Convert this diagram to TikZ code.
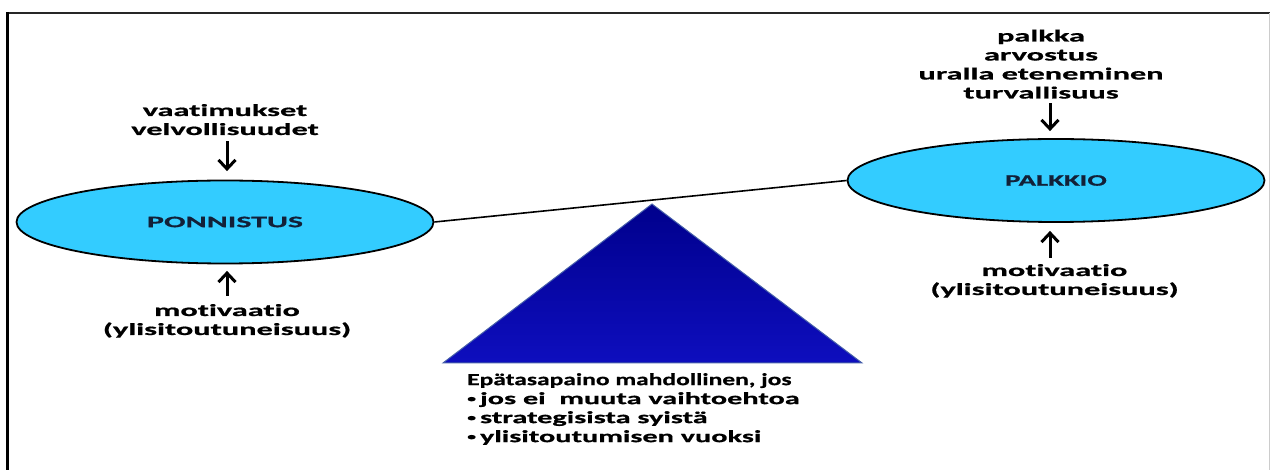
\documentclass[tikz,border=0pt]{standalone}
\usepackage{fontspec}
\setmainfont{Carlito}
\newfontfamily\labf[FakeStretch=1.9,FakeBold=0.8,Ligatures=NoCommon]{Carlito}
\newfontfamily\ponf[FakeStretch=2.0,FakeBold=0.8,Ligatures=NoCommon]{Carlito}
\newfontfamily\palf[FakeStretch=1.8,FakeBold=0.8,Ligatures=NoCommon]{Carlito}
\newfontfamily\notef[FakeStretch=1.78,FakeBold=0.8,Ligatures=NoCommon]{Carlito}
\newfontfamily\headf[FakeStretch=1.5,FakeBold=0.8,Ligatures=NoCommon]{Carlito}
\newcommand\smallbul{\raisebox{2.2pt}{\fontsize{10}{10}\selectfont •}\hspace{4pt}}
\usetikzlibrary{arrows.meta,shapes.geometric}
\definecolor{ellfill}{RGB}{51,204,255}
\definecolor{elltext}{RGB}{18,32,56}
\definecolor{tritop}{RGB}{0,0,140}
\definecolor{tribot}{RGB}{14,14,190}
\definecolor{triedge}{RGB}{70,95,170}
\tikzset{
  ell/.style={ellipse, draw=black, line width=1.8pt, fill=ellfill, minimum width=417pt, minimum height=83pt, inner sep=0pt, text=elltext},
  lab/.style={align=center, inner sep=0pt, anchor=base, font=\labf\bfseries\fontsize{17}{19}\selectfont},
  note/.style={align=left, anchor=north west, inner sep=0pt, font=\fontsize{17}{19}\selectfont},
  push/.style={line width=3pt, -{Straight Barb[length=9pt,width=17pt]}},
}
\begin{document}
\begin{tikzpicture}[x=1pt,y=-1pt]
\useasboundingbox (0,0) rectangle (1270,470);
% frame
\draw[line width=2pt, black!85] (6,13.5) -- (1270,13.5);
\draw[line width=3.5pt, black] (7.5,12) -- (7.5,470);
\draw[line width=0.8pt, black!20] (1269,13.5) -- (1269,470);
% fulcrum
\shade[top color=tritop, bottom color=tribot, draw=triedge, line width=1pt] (443,363) -- (652,204) -- (862,363) -- cycle;
% ellipses
\node[ell, font=\ponf\bfseries\fontsize{16}{18}\selectfont] (pon) at (225,222) {PONNISTUS};
\node[ell, font=\palf\bfseries\fontsize{16}{18}\selectfont] (pal) at (1056,180.5) {PALKKIO};
\draw[line width=1.6pt] (pon.east) -- (pal.west);
% labels (anchor = baseline of the last line)
\node[lab] (vt) at (225,135) {vaatimukset\\velvollisuudet};
\node[lab] (lm) at (227,335) {motivaatio\\(ylisitoutuneisuus)};
\node[lab] (rt) at (1041,98.5) {palkka\\arvostus\\uralla eteneminen\\turvallisuus};
\node[lab] (rm) at (1054.5,295) {motivaatio\\(ylisitoutuneisuus)};
\node[note] (ep) at (467,373) {{\headf\bfseries Epätasapaino mahdollinen, jos}\\{\notef\bfseries\smallbul jos ei\ \ muuta vaihtoehtoa}\\{\notef\bfseries\smallbul strategisista syistä}\\{\notef\bfseries\smallbul ylisitoutumisen vuoksi}};
% arrows
\draw[push, shorten <=6pt, shorten >=8.5pt] ([xshift=2pt]pon.north |- vt.south) -- ([xshift=2pt]pon.north);
\draw[push, shorten <=8pt, shorten >=6.5pt] ([xshift=2pt]pon.south |- lm.north) -- ([xshift=2pt]pon.south);
\draw[push, shorten <=4.5pt, shorten >=7pt] ([xshift=-6pt]pal.north |- rt.south) -- ([xshift=-6pt]pal.north);
\draw[push, shorten <=6pt, shorten >=8pt] ([xshift=-6pt]pal.south |- rm.north) -- ([xshift=-6pt]pal.south);
\end{tikzpicture}
\end{document}
